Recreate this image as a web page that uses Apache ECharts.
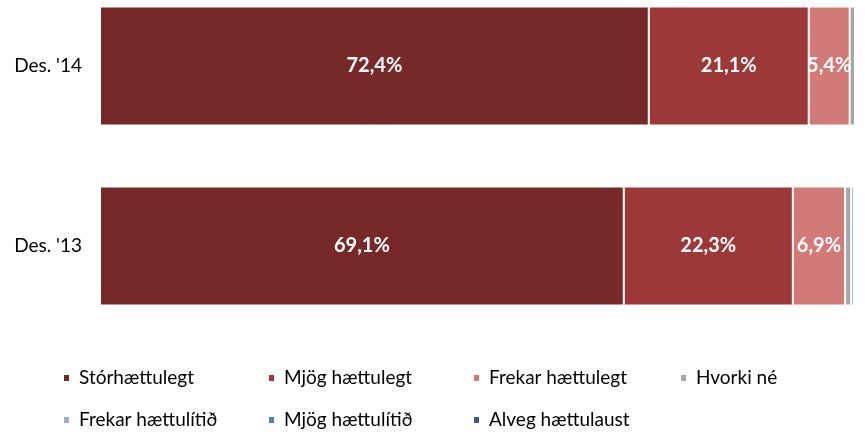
<!DOCTYPE html>
<html>
<head>
<meta charset="utf-8">
<script src="https://cdn.jsdelivr.net/npm/echarts@6/dist/echarts.min.js"></script>
<style>
  html, body { margin: 0; padding: 0; background: #ffffff; }
  #chart { width: 865px; height: 434px; }
</style>
</head>
<body>
<div id="chart"></div>
<script>
// Survey periods (top to bottom)
const categories = ["Des. '14", "Des. '13"];

// Share of answers per rating, in percent
const storhaettulegt = [72.4, 69.1];
const mjogHaettulegt = [21.1, 22.3];
const frekarHaettulegt = [5.4, 6.9];
const hvorkiNe = [0.7, 0.8];
const frekarHaettulitid = [0, 0.4];
const mjogHaettulitid = [0, 0];
const alvegHaettulaust = [0, 0];

const seriesNames = [
  'Stórhættulegt', 'Mjög hættulegt', 'Frekar hættulegt', 'Hvorki né',
  'Frekar hættulítið', 'Mjög hættulítið', 'Alveg hættulaust'
];
const seriesData = [
  storhaettulegt, mjogHaettulegt, frekarHaettulegt, hvorkiNe,
  frekarHaettulitid, mjogHaettulitid, alvegHaettulaust
];
const colors = ['#772829', '#9c3838', '#d27a78', '#a6a6a6', '#95b3d7', '#4f81bd', '#385d8a'];
const labelled = [true, true, true, false, false, false, false];

const FONT = 'Lato';

const series = seriesNames.map((name, i) => ({
  name: name,
  type: 'bar',
  stack: 'total',
  barWidth: 119,
  data: seriesData[i],
  itemStyle: { color: colors[i], borderColor: '#ffffff', borderWidth: 1 },
  label: {
    show: labelled[i],
    position: 'inside',
    color: '#ffffff',
    fontFamily: FONT,
    fontWeight: 'bold',
    fontSize: 20,
    formatter: p => p.value.toFixed(1).replace('.', ',') + '%'
  },
  emphasis: { disabled: true }
}));

// One legend block per entry, laid out in two rows
const legendLeft = [62, 267, 472, 679, 62, 267, 472];
const legendTop = [368, 368, 368, 368, 410, 410, 410];
const legends = seriesNames.map((name, i) => ({
  data: [name],
  left: legendLeft[i],
  top: legendTop[i],
  padding: 0,
  itemWidth: 7,
  itemHeight: 8,
  icon: 'rect',
  selectedMode: false,
  textStyle: {
    fontFamily: FONT,
    fontSize: 19,
    color: '#000000',
    lineHeight: 20,
    padding: [0, 0, 0, 4]
  }
}));

const chart = echarts.init(document.getElementById('chart'), null, { renderer: 'canvas' });
chart.setOption({
  animation: false,
  color: colors,
  // categories sit on the grid edges, so the grid spans the two bar centres
  grid: { left: 100, right: 7, top: 66, height: 180, containLabel: false },
  xAxis: { type: 'value', min: 0, max: 100, show: false },
  yAxis: {
    type: 'category',
    data: categories,
    inverse: true,
    boundaryGap: false,
    axisLine: { show: false },
    axisTick: { show: false },
    splitLine: { show: false },
    axisLabel: { fontFamily: FONT, fontSize: 19, color: '#000000', margin: 18 }
  },
  legend: legends,
  series: series
});
</script>
</body>
</html>
